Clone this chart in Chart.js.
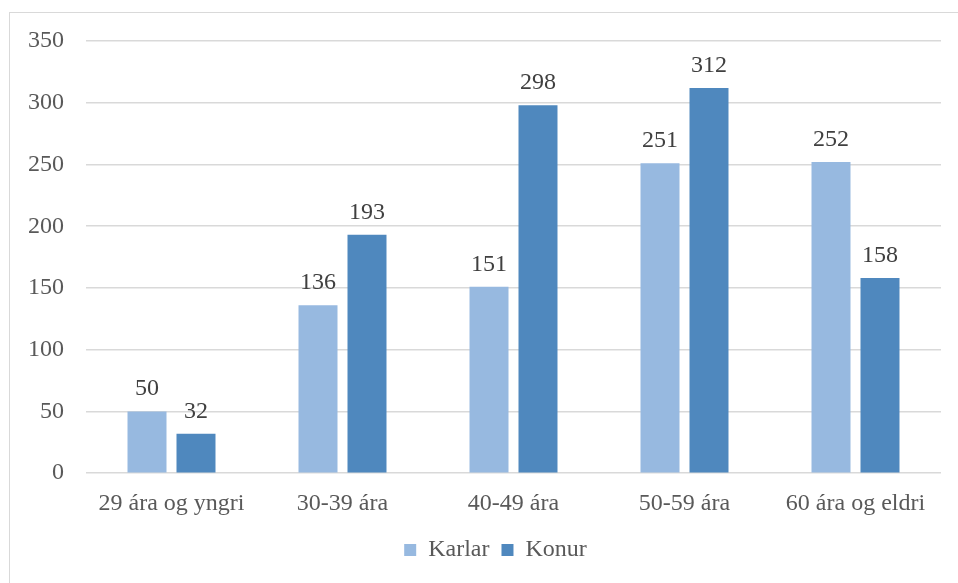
<!DOCTYPE html>
<html>
<head>
<meta charset="utf-8">
<script src="https://cdn.jsdelivr.net/npm/chart.js@4"></script>
<style>
  html, body { margin: 0; padding: 0; background: #fff; }
  body { width: 958px; height: 583px; overflow: hidden; position: relative; }
  #frame {
    position: absolute; left: 9px; top: 12px; width: 960px; height: 590px;
    border-left: 1px solid #d9d9d9; border-top: 1px solid #d9d9d9;
  }
  #wrap { position: absolute; left: 0; top: 0; width: 958px; height: 583px; }
</style>
</head>
<body>
<div id="frame"></div>
<div id="wrap"><canvas id="chartBar"></canvas></div>
<script>
const categories = ['29 ára og yngri', '30-39 ára', '40-49 ára', '50-59 ára', '60 ára og eldri']
const karlar = [50, 136, 151, 251, 252]
const konur = [32, 193, 298, 312, 158]
const yTicks = [0, 50, 100, 150, 200, 250, 300, 350]

const FONT = '"Liberation Serif", "Times New Roman", serif'
const SIZE = 24

// numbers above the bars
const barLabels = {
    id: 'barLabels',
    afterDatasetsDraw(chart) {
        const ctx = chart.ctx
        ctx.save()
        ctx.font = SIZE + 'px ' + FONT
        ctx.fillStyle = '#404040'
        ctx.textAlign = 'center'
        ctx.textBaseline = 'alphabetic'
        chart.data.datasets.forEach((ds, i) => {
            chart.getDatasetMeta(i).data.forEach((bar, j) => {
                ctx.fillText(ds.data[j], bar.x, bar.y - 16)
            })
        })
        ctx.restore()
    }
}

// legend sits a little right of centre in the original
const legendShift = {
    id: 'legendShift',
    afterLayout(chart) {
        chart.legend.left += 22
        chart.legend.right += 22
    }
}

let ctx = document.getElementById('chartBar').getContext('2d')
let chart = new Chart(ctx, {
    type: 'bar',
    data: {
        labels: categories,
        datasets: [
            {
                label: 'Karlar',
                data: karlar,
                backgroundColor: '#97b9e0',
                categoryPercentage: 0.573,
                barPercentage: 0.796
            },
            {
                label: 'Konur',
                data: konur,
                backgroundColor: '#4f88be',
                categoryPercentage: 0.573,
                barPercentage: 0.796
            }
        ]
    },
    options: {
        responsive: true,
        maintainAspectRatio: false,
        animation: false,
        layout: { padding: { left: 6, right: 17, top: 41, bottom: 11 } },
        plugins: {
            tooltip: { enabled: false },
            legend: {
                position: 'bottom',
                labels: {
                    color: '#595959',
                    font: { family: FONT, size: SIZE },
                    boxWidth: 12,
                    boxHeight: 12,
                    padding: 12
                }
            }
        },
        scales: {
            x: {
                grid: { display: false },
                border: { display: false },
                ticks: { color: '#595959', font: { family: FONT, size: SIZE }, padding: 8 }
            },
            y: {
                min: 0,
                max: 350,
                afterBuildTicks: (axis) => { axis.ticks = yTicks.map(v => ({ value: v })) },
                grid: { color: '#d9d9d9', lineWidth: 1.5, drawTicks: false },
                border: { display: false },
                ticks: { color: '#595959', font: { family: FONT, size: SIZE }, padding: 22 }
            }
        }
    },
    plugins: [barLabels, legendShift]
})
</script>
</body>
</html>
